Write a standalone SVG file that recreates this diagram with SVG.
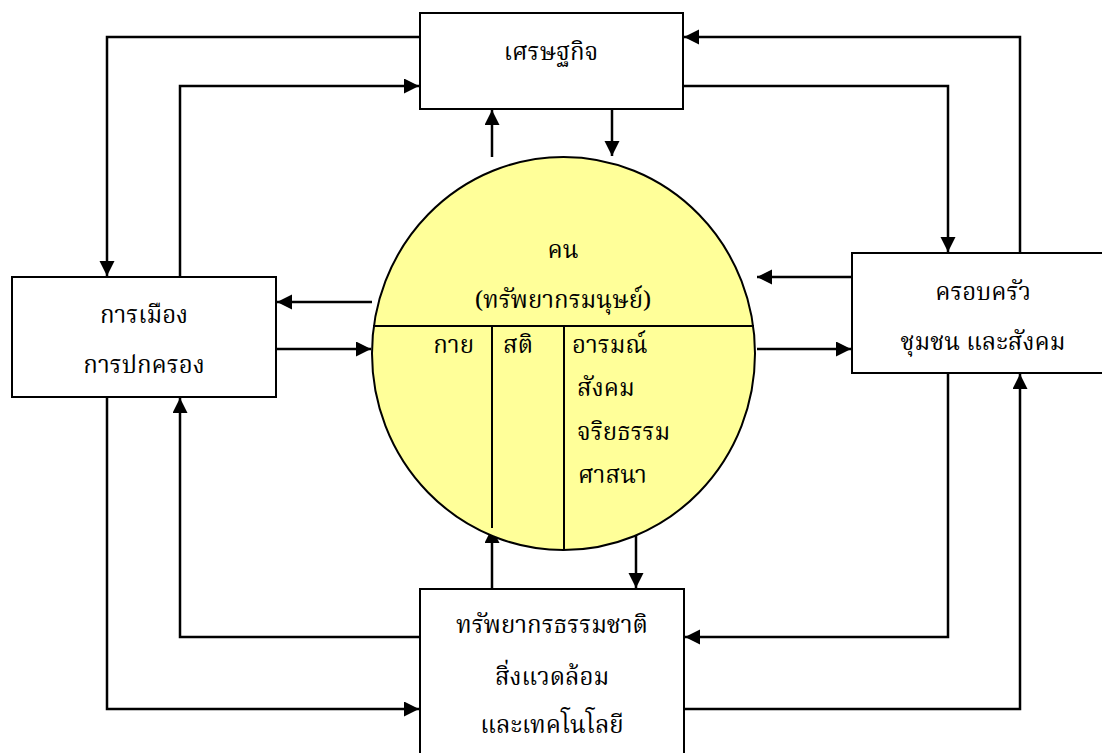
<svg xmlns="http://www.w3.org/2000/svg" width="1102" height="753" viewBox="0 0 1102 753">
  <style>
    .box { fill: #ffffff; stroke: #000000; stroke-width: 2; }
    .person { fill: #ffff99; stroke: #000000; stroke-width: 2; }
    .div { fill: none; stroke: #000000; stroke-width: 2; }
    .link { fill: none; stroke: #000000; stroke-width: 2.5; }
    .arr { marker-end: url(#head); }
    text { font-family: "Norasi", "Noto Serif Thai", "Noto Sans Thai", "Liberation Serif", "DejaVu Serif", serif; font-size: 24px; fill: #000000; }
    .c { text-anchor: middle; }
  </style>
  <defs>
    <marker id="head" markerUnits="userSpaceOnUse" markerWidth="16" markerHeight="16" refX="15" refY="7.5" orient="auto">
      <path d="M0,0 L15,7.5 L0,15 Z" fill="#000000"/>
    </marker>
  </defs>

  <rect width="1102" height="753" fill="#ffffff"/>

  <!-- connectors -->
  <g id="connectors">
    <!-- economy <-> politics -->
    <polyline class="link arr" points="420,37 107,37 107,276"/>
    <polyline class="link arr" points="180,277 180,86 419,86"/>
    <!-- economy <-> family/community -->
    <polyline class="link arr" points="683,86 948,86 948,252"/>
    <polyline class="link arr" points="1020,253 1020,37 684,37"/>
    <!-- economy <-> person -->
    <line class="link arr" x1="492" y1="157" x2="492" y2="110"/>
    <line class="link arr" x1="612" y1="109" x2="612" y2="156"/>
    <!-- politics <-> person -->
    <line class="link arr" x1="372" y1="302" x2="277" y2="302"/>
    <line class="link arr" x1="276" y1="349" x2="371" y2="349"/>
    <!-- family/community <-> person -->
    <line class="link arr" x1="852" y1="277" x2="757" y2="277"/>
    <line class="link arr" x1="757" y1="349" x2="851" y2="349"/>
    <!-- politics <-> nature/technology -->
    <polyline class="link arr" points="107,397 107,709 419,709"/>
    <polyline class="link arr" points="420,637 180,637 180,398"/>
    <!-- family/community <-> nature/technology -->
    <polyline class="link arr" points="948,373 948,637 685,637"/>
    <polyline class="link arr" points="684,709 1020,709 1020,374"/>
    <!-- nature/technology <-> person -->
    <line class="link arr" x1="492" y1="589" x2="492" y2="528"/>
    <line class="link arr" x1="636" y1="527" x2="636" y2="588"/>
  </g>

  <!-- central person circle -->
  <g id="person">
    <ellipse class="person" cx="563.5" cy="353.5" rx="191.5" ry="196.5"/>
    <line class="div" x1="373" y1="326" x2="754" y2="326"/>
    <line class="div" x1="492" y1="326" x2="492" y2="528"/>
    <line class="div" x1="564" y1="326" x2="564" y2="550"/>
    <text class="c" x="563" y="258">คน</text>
    <text class="c" x="563" y="308">(ทรัพยากรมนุษย์)</text>
    <text x="474" y="353" text-anchor="end">กาย</text>
    <text x="503" y="353">สติ</text>
    <text x="572" y="353">อารมณ์</text>
    <text x="577" y="396">สังคม</text>
    <text x="577" y="440">จริยธรรม</text>
    <text x="578" y="483">ศาสนา</text>
  </g>

  <!-- economy -->
  <g id="economy">
    <rect class="box" x="420" y="13" width="263" height="96"/>
    <text class="c" x="551" y="60">เศรษฐกิจ</text>
  </g>

  <!-- politics and government -->
  <g id="politics">
    <rect class="box" x="12" y="277" width="264" height="120"/>
    <text class="c" x="144" y="323">การเมือง</text>
    <text class="c" x="144" y="373">การปกครอง</text>
  </g>

  <!-- family, community and society -->
  <g id="community">
    <rect class="box" x="852" y="253" width="260" height="120"/>
    <text class="c" x="983" y="300">ครอบครัว</text>
    <text class="c" x="983" y="350">ชุมชน และสังคม</text>
  </g>

  <!-- natural resources, environment and technology -->
  <g id="nature">
    <rect class="box" x="420" y="589" width="264" height="175"/>
    <text class="c" x="552" y="633">ทรัพยากรธรรมชาติ</text>
    <text class="c" x="552" y="685">สิ่งแวดล้อม</text>
    <text class="c" x="552" y="733">และเทคโนโลยี</text>
  </g>
</svg>
